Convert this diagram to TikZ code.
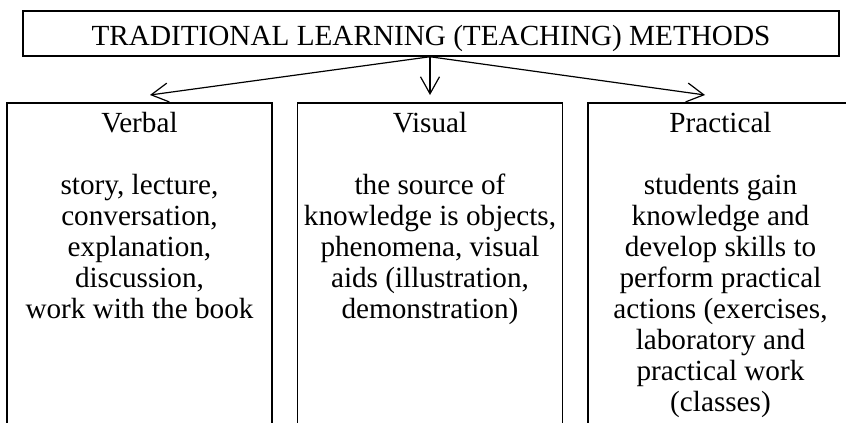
\documentclass[tikz,border=0pt]{standalone}
\usepackage{fontspec}
\setmainfont{Liberation Serif}
\usetikzlibrary{arrows.meta}
\begin{document}
\begin{tikzpicture}[x=1pt,y=-1pt,
  every node/.style={font=\fontsize{29.2}{31}\selectfont},
  frame/.style={draw, line width=1.5pt},
  colbox/.style={frame, anchor=north, minimum width=265pt, minimum height=400pt, inner sep=0pt},
  link/.style={line width=1.2pt, -{Straight Barb[length=17pt,width=19pt,line width=1.2pt]}},
  colhead/.style={anchor=north, inner sep=0pt, align=center}]
\useasboundingbox (0,0) rectangle (846,423);
\clip (0,0) rectangle (846,423);

% heading
\node[frame, minimum width=816pt, minimum height=45pt, inner sep=0pt,
      text height=23pt, text depth=0pt] (title) at (431,33.5)
      {TRADITIONAL LEARNING (TEACHING) METHODS};

% three columns, open at the bottom of the page
\node[colbox] (verbal) at (139.5,102) {};
\node[colbox] (visual) at (430,102) {};
\node[colbox] (practical) at (720.5,102) {};

\node[colhead] (verbaltext) at (139.5,112)
  {Verbal\\[31pt]story, lecture,\\conversation,\\explanation,\\discussion,\\work with the book};
\node[colhead] (visualtext) at (430,112)
  {Visual\\[31pt]the source of\\knowledge is objects,\\phenomena, visual\\aids (illustration,\\demonstration)};
\node[colhead] (practicaltext) at (720.5,112)
  {Practical\\[31pt]students gain\\knowledge and\\develop skills to\\perform practical\\actions (exercises,\\laboratory and\\practical work\\(classes)};

% arrows from the heading
\coordinate (src) at ([xshift=-1pt]title.south);
\draw[link] (src) -- ([xshift=10.5pt,yshift=7pt]verbal.north);
\draw[link] (src) -- ([yshift=7pt]visual.north);
\draw[link] (src) -- ([xshift=-15.5pt,yshift=7pt]practical.north);
\end{tikzpicture}
\end{document}
